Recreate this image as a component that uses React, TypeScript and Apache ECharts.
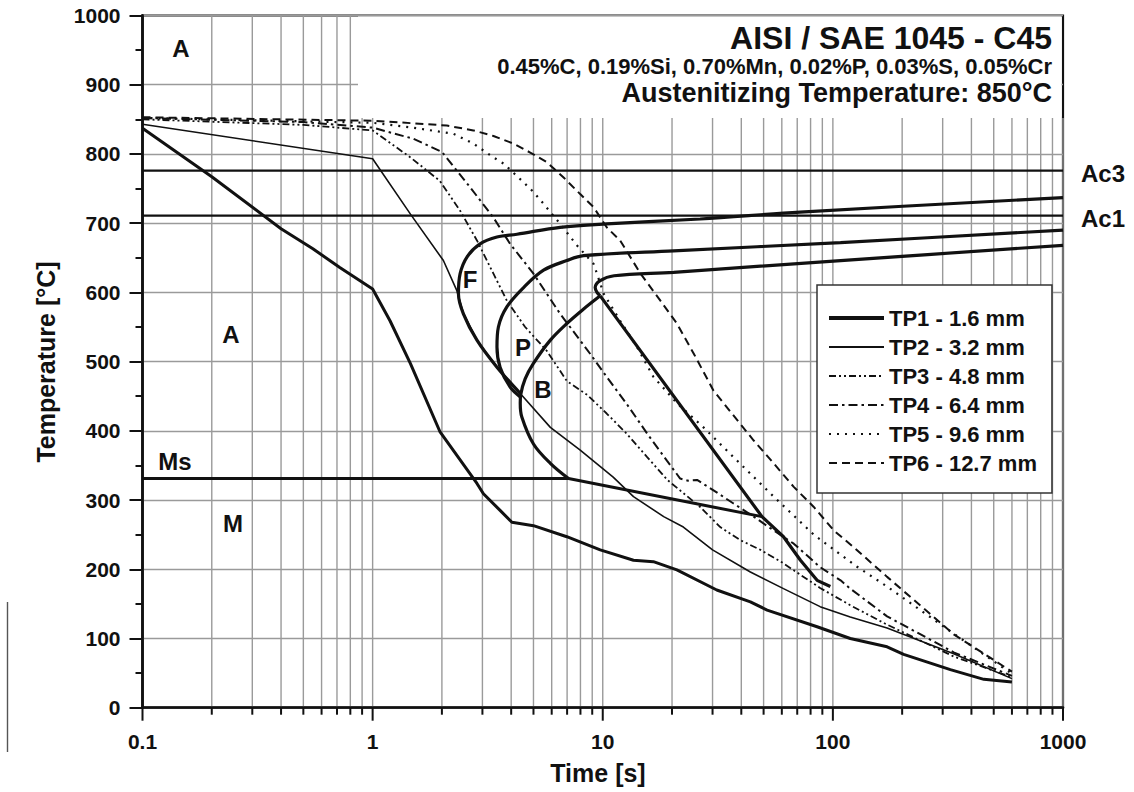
import React, { useEffect, useRef } from "react";
import * as echarts from "echarts";

const FONT = "'Liberation Sans', Arial, Helvetica, sans-serif";
const INK = "#111";
const GRID_GRAY = "#9a9a9a";

// Critical temperatures (°C)
const AC3 = 776;
const AC1 = 711;
const MS = 331;

// Cooling curves: [time s, temperature °C]
const tp1 = [
  [0.1, 837], [0.2, 767], [0.4, 692], [0.55, 663], [0.72, 636], [1, 605],
  [1.19, 559], [1.46, 497], [1.96, 399], [2.84, 324], [3.03, 309], [3.58, 285],
  [4.03, 268], [5.0, 263], [6.98, 247], [9.75, 228], [13.6, 213], [16.6, 211],
  [21, 199], [31.3, 170], [43.8, 153], [51.8, 141], [85.4, 117], [119, 100],
  [172, 88], [203, 77], [324, 55], [453, 41], [600, 37],
];
const tp2 = [
  [0.1, 843], [1, 793], [1.46, 713], [2.03, 646], [2.32, 603], [2.48, 570],
  [2.84, 531], [3.47, 492], [4.38, 454], [5.92, 405], [7.98, 372], [11.1, 333],
  [13.6, 305], [18.4, 276], [22.4, 261], [30, 228], [43.8, 196], [61, 172],
  [88, 146], [119, 131], [172, 115], [335, 78], [600, 42],
];
const tp3 = [
  [0.1, 850], [0.5, 842], [1, 834], [1.46, 795], [1.96, 761], [2.4, 718],
  [2.84, 675], [3.35, 627], [3.83, 588], [4.6, 550], [5.7, 516], [6.98, 472],
  [8.55, 452], [10.4, 425], [12.7, 396], [15.6, 362], [19.1, 329], [26.5, 290],
  [32.4, 261], [39.6, 242], [48.5, 228], [60, 210], [88, 173], [119, 148],
  [172, 120], [335, 74], [600, 44],
];
const tp4 = [
  [0.1, 852], [0.5, 846], [1, 838], [1.5, 822], [2, 803], [2.65, 752],
  [3.35, 708], [3.96, 670], [5, 627], [6.53, 569], [8.83, 511], [10.4, 478],
  [12.7, 439], [15.6, 396], [19, 357], [21.7, 331], [23.5, 328], [25.7, 329],
  [30.3, 314], [37, 295], [45.3, 276], [55.3, 256], [67.6, 237], [88, 203],
  [108, 184], [119, 172], [172, 132], [335, 80], [600, 46],
];
const tp5 = [
  [0.1, 852], [1, 845], [1.5, 838], [2.25, 829], [2.74, 815], [3.35, 795],
  [3.71, 786], [4.53, 759], [5, 745], [5.53, 728], [6.53, 699], [7.72, 668],
  [9.13, 641], [10.1, 598], [11.9, 559], [14.1, 521], [16.6, 478], [21, 440],
  [27.4, 405], [37, 362], [55.3, 305], [82.6, 250], [127, 204], [172, 175],
  [335, 107], [600, 49],
];
const tp6 = [
  [0.1, 853], [1, 848], [1.72, 843], [2.1, 841], [2.74, 834], [3.35, 826],
  [4.09, 815], [4.84, 802], [5.72, 788], [6.76, 766], [7.98, 742], [9.13, 723],
  [10.4, 694], [11.9, 675], [14.6, 627], [17.8, 588], [21, 555], [24.9, 511],
  [30.3, 458], [39.6, 410], [45.3, 386], [55.3, 353], [67.6, 319], [82.6, 290],
  [101, 256], [123, 232], [172, 189], [335, 106], [600, 52],
];

// Transformation boundaries
const ferriteStart = [
  [4.38, 454], [3.47, 492], [2.84, 531], [2.48, 569], [2.36, 598], [2.4, 627],
  [2.57, 651], [2.93, 670], [3.47, 680], [4.24, 684], [6.53, 694], [10.4, 699],
  [26.5, 706], [72, 716], [1000, 737],
];
const pearliteStart = [
  [4.38, 449], [3.96, 463], [3.58, 492], [3.47, 521], [3.52, 550], [3.83, 579],
  [4.53, 607], [5.53, 632], [6.98, 646], [8.25, 653], [20.3, 660], [108, 672],
  [1000, 690],
];
const pearliteFinish = [
  [9.75, 595], [9.44, 600], [9.27, 607], [9.75, 617], [11.2, 624], [20.3, 629],
  [108, 646], [1000, 668],
];
const bainiteStart = [
  [7.1, 331], [5.92, 353], [5.0, 381], [4.45, 420], [4.38, 440], [4.4, 452],
  [4.6, 475], [4.99, 497], [5.92, 531], [6.98, 555], [8.26, 576], [9.75, 595],
];
const bainiteFinish = [
  [9.75, 595], [49.2, 276], [61, 247], [72.3, 213], [85.4, 184], [97.5, 175],
];
const msLine = [[0.1, MS], [7.1, MS], [49.2, 276]];

const TIME_MIN = 0.1;
const TIME_MAX = 1000;
const timeTickLabels = ["0.1", "1", "10", "100", "1000"];

// Vertical grid positions on the log axis (1..9 in every decade)
const decadeStarts = [0.1, 1, 10, 100];
const decadeSteps = [1, 2, 3, 4, 5, 6, 7, 8, 9];
const gridTimes = [
  ...decadeStarts.flatMap((d) => decadeSteps.map((s) => Number((d * s).toPrecision(3)))),
  TIME_MAX,
];

// Vertical grid lines stop under the heading panel to the right of this time
const PANEL_FROM_TIME = 0.86;
const PANEL_BOTTOM_T = 852;

const legendNames = [
  "TP1 - 1.6 mm",
  "TP2 - 3.2 mm",
  "TP3 - 4.8 mm",
  "TP4 - 6.4 mm",
  "TP5 - 9.6 mm",
  "TP6 - 12.7 mm",
];
const coolingCurves = [tp1, tp2, tp3, tp4, tp5, tp6];
const coolingStyles = [
  { width: 3, legendWidth: 4, type: "solid" },
  { width: 1.6, legendWidth: 2.2, type: "solid" },
  { width: 1.8, legendWidth: 1.8, type: [7, 3, 2, 3, 2, 3] },
  { width: 2, legendWidth: 2, type: [9, 4, 2.5, 4] },
  { width: 2.2, legendWidth: 2.2, type: [2, 6] },
  { width: 2, legendWidth: 2, type: [8, 5] },
];

function isPowerOfTen(v: number) {
  const l = Math.log10(v);
  return Math.abs(l - Math.round(l)) < 1e-6;
}

export default function App() {
  const ref = useRef<HTMLDivElement>(null);

  useEffect(() => {
    document.body.style.margin = "0";
    document.body.style.overflow = "hidden";
    if (!ref.current) return;
    const chart = echarts.init(ref.current, null, { renderer: "svg" });

    const boldLine = (name: string, data: number[][], width = 3.2, smooth: number | boolean = 0.35) => ({
      name,
      type: "line",
      data,
      smooth,
      symbol: "none",
      silent: true,
      z: 4,
      itemStyle: { color: INK },
      lineStyle: { color: INK, width },
    });

    const option: any = {
      animation: false,
      backgroundColor: "#fff",
      grid: {
        left: 142.5,
        right: 71,
        top: 15.5,
        bottom: 84.3,
        show: true,
        borderColor: INK,
        borderWidth: 2.2,
        backgroundColor: "transparent",
      },
      xAxis: {
        type: "log",
        logBase: 10,
        min: TIME_MIN,
        max: TIME_MAX,
        splitNumber: 4,
        axisLine: { lineStyle: { color: INK, width: 2.6 } },
        axisTick: { show: false },
        splitLine: { show: false },
        axisLabel: {
          color: INK,
          fontFamily: FONT,
          fontWeight: "bold",
          fontSize: 21,
          margin: 23,
          formatter: (v: number) => {
            const i = Math.round(Math.log10(v) + 1);
            return timeTickLabels[i] ?? String(v);
          },
        },
      },
      yAxis: {
        type: "value",
        min: 0,
        max: 1000,
        interval: 100,
        z: 0,
        axisLine: { show: true, lineStyle: { color: INK, width: 2.8 } },
        axisTick: { show: true, length: 13, lineStyle: { color: INK, width: 2 } },
        minorTick: { show: true, splitNumber: 2, length: 7, lineStyle: { color: INK, width: 2 } },
        splitLine: { show: true, lineStyle: { color: GRID_GRAY, width: 1.4 } },
        axisLabel: {
          color: INK,
          fontFamily: FONT,
          fontWeight: "bold",
          fontSize: 21,
          margin: 22,
          formatter: (v: number) => String(v),
        },
      },
      legend: {
        data: legendNames.map((name, i) => ({
          name,
          lineStyle: { width: coolingStyles[i].legendWidth },
        })),
        orient: "vertical",
        left: 817,
        top: 285,
        itemWidth: 55,
        itemHeight: 14,
        itemGap: 7,
        padding: [22, 15, 19, 10],
        backgroundColor: "#fff",
        borderColor: "#333",
        borderWidth: 1.5,
        selectedMode: false,
        itemStyle: { opacity: 0 },
        textStyle: { color: INK, fontFamily: FONT, fontWeight: "bold", fontSize: 22 },
        z: 20,
      },
      graphic: [
        {
          type: "rect",
          z: 1,
          silent: true,
          shape: { x: 358, y: 16.6, width: 703.5, height: 100 },
          style: { fill: "#fff" },
        },
        {
          type: "line",
          z: 1,
          silent: true,
          shape: { x1: 7.5, y1: 602, x2: 7.5, y2: 752 },
          style: { stroke: "#555", lineWidth: 1.4 },
        },
        ...[
          { text: "AISI / SAE 1045 - C45", y: 38, size: 32 },
          { text: "0.45%C, 0.19%Si, 0.70%Mn, 0.02%P, 0.03%S, 0.05%Cr", y: 66, size: 22 },
          { text: "Austenitizing Temperature: 850°C", y: 93, size: 27 },
        ].map((t) => ({
          type: "text",
          z: 30,
          silent: true,
          x: 1052,
          y: t.y,
          style: {
            text: t.text,
            fill: INK,
            font: `bold ${t.size}px ${FONT}`,
            textAlign: "right",
            textVerticalAlign: "middle",
          },
        })),
        ...[
          { text: "A", x: 181, y: 48 },
          { text: "A", x: 231, y: 334 },
          { text: "F", x: 470, y: 279 },
          { text: "P", x: 523, y: 347 },
          { text: "B", x: 543, y: 389 },
          { text: "Ms", x: 175, y: 461 },
          { text: "M", x: 233, y: 523 },
          { text: "Ac3", x: 1103, y: 173 },
          { text: "Ac1", x: 1103, y: 218 },
        ].map((t) => ({
          type: "text",
          z: 30,
          silent: true,
          x: t.x,
          y: t.y,
          style: {
            text: t.text,
            fill: INK,
            font: `bold 24px ${FONT}`,
            textAlign: "center",
            textVerticalAlign: "middle",
          },
        })),
        {
          type: "text",
          z: 30,
          silent: true,
          x: 598,
          y: 773,
          style: {
            text: "Time [s]",
            fill: INK,
            font: `bold 25px ${FONT}`,
            textAlign: "center",
            textVerticalAlign: "middle",
          },
        },
        {
          type: "text",
          z: 30,
          silent: true,
          x: 46,
          y: 362,
          rotation: Math.PI / 2,
          style: {
            text: "Temperature [°C]",
            fill: INK,
            font: `bold 25px ${FONT}`,
            textAlign: "center",
            textVerticalAlign: "middle",
          },
        },
      ],
      series: [
        {
          name: "grid",
          type: "custom",
          silent: true,
          clip: false,
          z: 0,
          data: gridTimes.map((v) => [v, 0]),
          renderItem: (_params: any, api: any) => {
            const v = api.value(0);
            const top = v < PANEL_FROM_TIME ? 1000 : PANEL_BOTTOM_T;
            const base = api.coord([v, 0]);
            const head = api.coord([v, top]);
            const tickLen = isPowerOfTen(v) ? 13 : 7;
            return {
              type: "group",
              children: [
                {
                  type: "line",
                  shape: { x1: base[0], y1: base[1], x2: head[0], y2: head[1] },
                  style: { stroke: GRID_GRAY, lineWidth: 1.4 },
                },
                {
                  type: "line",
                  shape: { x1: base[0], y1: base[1], x2: base[0], y2: base[1] + tickLen },
                  style: { stroke: INK, lineWidth: 2 },
                },
              ],
            };
          },
        },
        boldLine("Ac3", [[TIME_MIN, AC3], [TIME_MAX, AC3]], 2.2, false),
        boldLine("Ac1", [[TIME_MIN, AC1], [TIME_MAX, AC1]], 2.2, false),
        boldLine("Ms", msLine, 3, false),
        boldLine("F", ferriteStart, 3.2, 0.35),
        boldLine("Ps", pearliteStart, 3.2, 0.35),
        boldLine("Pf", pearliteFinish, 3.2, 0.35),
        boldLine("Bs", bainiteStart, 3.2, 0.35),
        boldLine("Bf", bainiteFinish, 3.2, false),
        ...coolingCurves.map((data, i) => ({
          name: legendNames[i],
          type: "line",
          data,
          symbol: "none",
          silent: true,
          z: 3,
          itemStyle: { color: INK },
          lineStyle: { color: INK, width: coolingStyles[i].width, type: coolingStyles[i].type },
        })),
      ],
    };

    chart.setOption(option);
    return () => chart.dispose();
  }, []);

  return <div ref={ref} style={{ width: 1134, height: 792 }} />;
}
